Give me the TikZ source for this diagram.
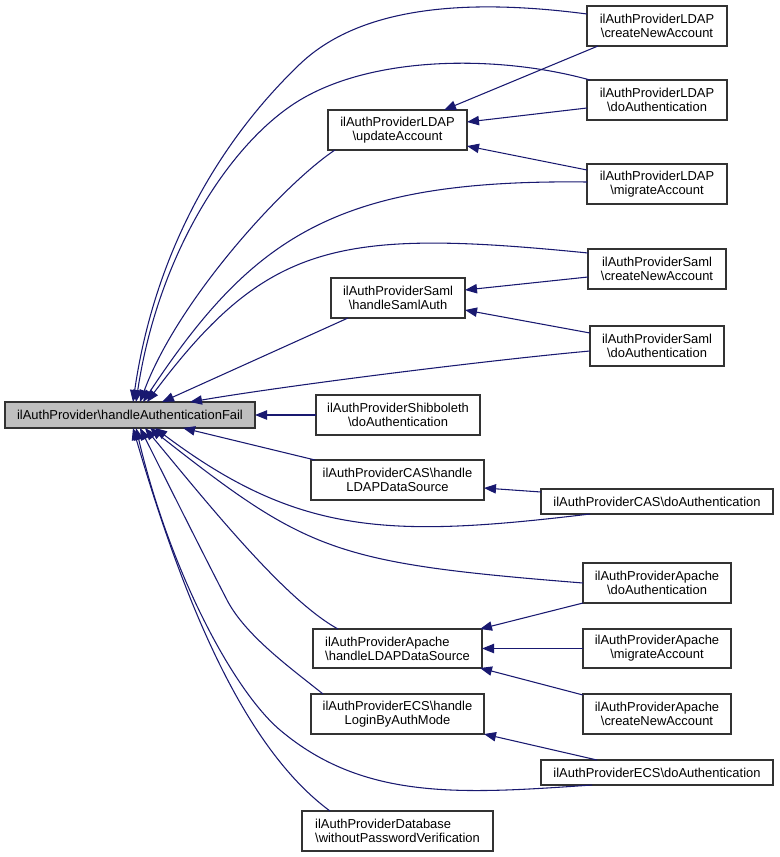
\documentclass[tikz,border=0pt]{standalone}
\usepackage{fontspec}
\setmainfont{Liberation Sans}
\usetikzlibrary{arrows.meta,calc}
\definecolor{edgeblue}{HTML}{191970}
\definecolor{mainfill}{HTML}{BFBFBF}
\definecolor{dxborder}{HTML}{333333}
\newcommand{\dxbs}{\textbackslash}
\newcommand{\dxnode}[7][]{\node[dxbox,#1,anchor=north west,minimum width=#5*0.75pt,minimum height=#6*0.75pt] (#2) at (#3,#4) {#7};}
\begin{document}
\begin{tikzpicture}[x=0.75pt,y=-0.75pt,
  dxbox/.style={draw=dxborder,line width=0.9pt,fill=white,inner sep=0pt,outer sep=0pt,align=center,font=\fontsize{9.7pt}{10.4pt}\selectfont},
  dxedge/.style={draw=edgeblue,line width=0.8pt,-{Triangle[length=9pt,width=7pt]}}]
\useasboundingbox (0,0) rectangle (779,857);
% nodes
\dxnode[fill=mainfill]{main}{5}{402}{250}{26}{ilAuthProvider\dxbs handleAuthenticationFail}
\dxnode{updL}{328}{110}{139}{40}{ilAuthProviderLDAP\\\dxbs updateAccount}
\dxnode{samlH}{331}{278}{134}{40}{ilAuthProviderSaml\\\dxbs handleSamlAuth}
\dxnode{shib}{316}{395}{164}{40}{ilAuthProviderShibboleth\\\dxbs doAuthentication}
\dxnode{casH}{311}{460}{173}{40}{ilAuthProviderCAS\dxbs handle\\LDAPDataSource}
\dxnode[align=left]{apH}{313}{629}{169}{39}{ilAuthProviderApache\\\dxbs handleLDAPDataSource}
\dxnode{ecsH}{311}{694}{173}{40}{ilAuthProviderECS\dxbs handle\\LoginByAuthMode}
\dxnode[align=left]{db}{302}{811}{191}{40}{ilAuthProviderDatabase\\\dxbs withoutPasswordVerification}
\dxnode{ldC}{587}{6}{140}{40}{ilAuthProviderLDAP\\\dxbs createNewAccount}
\dxnode{ldD}{587}{80}{140}{40}{ilAuthProviderLDAP\\\dxbs doAuthentication}
\dxnode{ldM}{587}{164}{140}{40}{ilAuthProviderLDAP\\\dxbs migrateAccount}
\dxnode{saC}{588}{249}{138}{40}{ilAuthProviderSaml\\\dxbs createNewAccount}
\dxnode{saD}{590}{326}{134}{40}{ilAuthProviderSaml\\\dxbs doAuthentication}
\dxnode{casD}{541}{489}{232}{25}{ilAuthProviderCAS\dxbs doAuthentication}
\dxnode{apD}{583}{563}{148}{40}{ilAuthProviderApache\\\dxbs doAuthentication}
\dxnode{apM}{583}{629}{148}{39}{ilAuthProviderApache\\\dxbs migrateAccount}
\dxnode{apC}{583}{694}{148}{40}{ilAuthProviderApache\\\dxbs createNewAccount}
\dxnode{ecsD}{541}{760}{232}{25}{ilAuthProviderECS\dxbs doAuthentication}
% end points
\coordinate (s1) at ($(ldC.north west)+(0,8)$);
\coordinate (e1) at ($(main.north west)+(128,0)$);
\coordinate (s2) at ($(ldD.north west)+(3,0)$);
\coordinate (e2) at ($(main.north west)+(131,0)$);
\coordinate (s3) at ($(updL.south west)+(7,0)$);
\coordinate (e3) at ($(main.north west)+(135,0)$);
\coordinate (s4) at ($(ldM.north west)+(0,18)$);
\coordinate (e4) at ($(main.north west)+(138,0)$);
\coordinate (s5) at ($(saC.north west)+(0,4)$);
\coordinate (e5) at ($(main.north west)+(142,0)$);
\coordinate (s7) at ($(saD.north west)+(0,25)$);
\coordinate (e7) at ($(main.north west)+(185,0)$);
\coordinate (s10) at ($(casD.south west)+(49,0)$);
\coordinate (e10) at ($(main.south west)+(150,0)$);
\coordinate (s11) at ($(apD.north west)+(0,20)$);
\coordinate (e11) at ($(main.south west)+(145,0)$);
\coordinate (s12) at ($(apH.north west)+(25,0)$);
\coordinate (e12) at ($(main.south west)+(140,0)$);
\coordinate (s13) at ($(ecsH.north west)+(12,0)$);
\coordinate (e13) at ($(main.south west)+(135,0)$);
\coordinate (s14) at ($(ecsD.south west)+(51,0)$);
\coordinate (e14) at ($(main.south west)+(131,0)$);
\coordinate (s15) at ($(db.north west)+(28,0)$);
\coordinate (e15) at ($(main.south west)+(128,0)$);
% edges into main
\draw[dxedge] (s1) .. controls (480,0) and (365,2) .. (300,64) .. controls (220.5,140) and (155,250) .. (e1);
\draw[dxedge] (s2) .. controls (500,55) and (375,55) .. (300,100) .. controls (231.4,141.1) and (158.5,252) .. (e2);
\draw[dxedge] (s3) .. controls (285,183) and (178.5,298.6) .. (e3);
\draw[dxedge] (s4) .. controls (337,179) and (253,236) .. (e4);
\draw[dxedge] (s5) .. controls (338,228) and (267,242) .. (e5);
\draw[dxedge] ($(samlH.south west)+(17,0)$) -- ($(main.north west)+(157,0)$);
\draw[dxedge] (s7) .. controls (490,360) and (290,385) .. (e7);
\draw[dxedge] (shib.west) -- (main.east);
\draw[dxedge] ($(casH.north west)+(4,0)$) -- ($(main.south west)+(178,0)$);
\draw[dxedge] (s10) .. controls (390,538) and (299,536) .. (e10);
\draw[dxedge] (s11) .. controls (333,563) and (308,552) .. (e11);
\draw[dxedge] (s12) .. controls (285,600) and (209,505) .. (e12);
\draw[dxedge] (s13) .. controls (291.4,668.6) and (245.4,635.6) .. (227,600) .. controls (199.4,546.6) and (162.5,472.5) .. (e13);
\draw[dxedge] (s14) .. controls (462,794) and (364,801) .. (280,730) .. controls (234,691) and (170.5,573.5) .. (e14);
\draw[dxedge] (s15) .. controls (250,752) and (189,620) .. (e15);
% edges into middle nodes
\draw[dxedge] ($(ldC.south west)+(11,0)$) -- ($(updL.north west)+(116,0)$);
\draw[dxedge] ($(ldD.north west)+(0,28)$) -- ($(updL.north east)+(0,12)$);
\draw[dxedge] ($(ldM.north west)+(0,6)$) -- ($(updL.north east)+(0,36)$);
\draw[dxedge] ($(saC.north west)+(0,28)$) -- ($(samlH.north east)+(0,12)$);
\draw[dxedge] ($(saD.north west)+(0,7)$) -- ($(samlH.north east)+(0,32)$);
\draw[dxedge] ($(casD.north west)+(0,3)$) -- ($(casH.north east)+(0,28)$);
\draw[dxedge] (apD.south west) -- ($(apH.north east)+(-2,0)$);
\draw[dxedge] (apM.west) -- (apH.east);
\draw[dxedge] ($(apC.north west)+(0,1)$) -- ($(apH.south east)+(-2,0)$);
\draw[dxedge] ($(ecsD.north west)+(56,0)$) -- (ecsH.south east);
\end{tikzpicture}
\end{document}
